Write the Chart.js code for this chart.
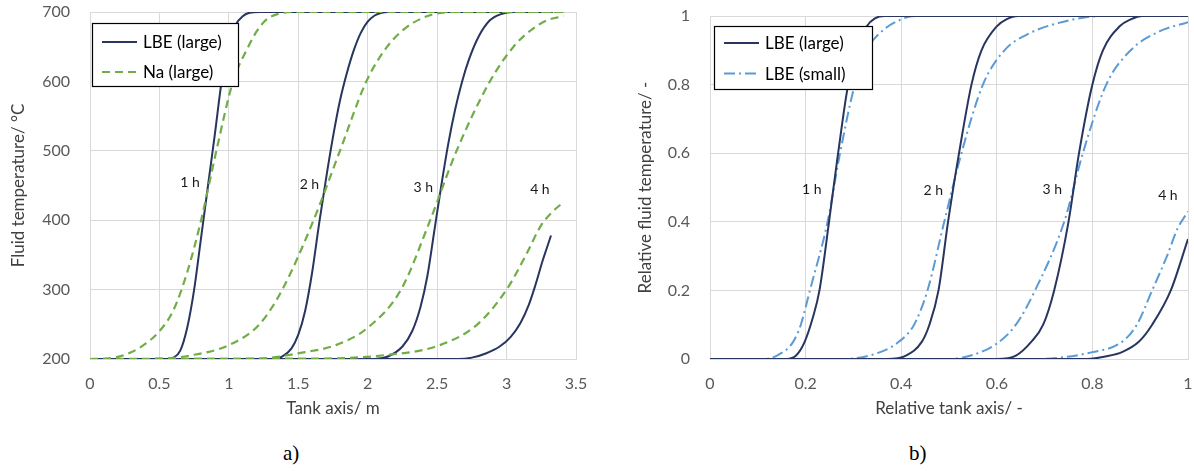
<!DOCTYPE html>
<html lang="en">
<head>
    <meta charset="UTF-8">
    <title>Fluid temperature along the tank axis</title>
    <script src="https://cdn.jsdelivr.net/npm/chart.js"></script>
    <style>
        body {
            margin: 0;
            background: #fff;
            width: 1194px;
            height: 471px;
            position: relative;
            overflow: hidden;
            font-family: Lato, sans-serif;
        }

        canvas {
            position: absolute;
            top: 0;
        }

        #chartA { left: 0; }
        #chartB { left: 600px; }

        .cap {
            position: absolute;
            top: 441px;
            font-family: "Liberation Serif", serif;
            font-size: 21px;
            color: #000;
        }
    </style>
</head>
<body>
    <canvas id="chartA" width="600" height="430"></canvas>
    <canvas id="chartB" width="594" height="430"></canvas>
    <div class="cap" style="left:283px">a)</div>
    <div class="cap" style="left:909px">b)</div>

    <script>
        // ---- a) absolute values, [tank axis m, temperature °C]
        const lbe1h = [[0,200],[0.55,200],[0.6,202],[0.65,212],[0.7,245],[0.75,300],[0.8,375],[0.85,450],[0.9,525],[0.95,603],[1.0,655],[1.05,682],[1.1,694],[1.15,699],[1.22,700],[3.33,700]];
        const lbe2h = [[0,200],[1.3,200],[1.38,203],[1.45,215],[1.5,235],[1.55,270],[1.6,325],[1.65,395],[1.7,460],[1.75,520],[1.8,572],[1.85,612],[1.9,645],[1.95,670],[2.0,686],[2.05,695],[2.1,699],[2.15,700],[3.33,700]];
        const lbe3h = [[0,200],[2.05,200],[2.15,204],[2.25,218],[2.32,240],[2.38,275],[2.43,320],[2.48,385],[2.53,450],[2.58,510],[2.63,560],[2.68,600],[2.73,632],[2.8,665],[2.88,688],[2.96,697],[3.05,700],[3.33,700]];
        const lbe4h = [[0,200],[2.65,200],[2.75,202],[2.85,208],[2.95,218],[3.03,232],[3.1,252],[3.16,278],[3.21,308],[3.26,342],[3.29,360],[3.32,378]];

        const na1h = [[0,200],[0.1,200.5],[0.2,203],[0.3,210],[0.4,222],[0.5,240],[0.6,270],[0.7,325],[0.8,400],[0.91,500],[1.03,600],[1.14,650],[1.2,672],[1.27,689],[1.35,697],[1.45,700],[3.41,700]];
        const na2h = [[0,200],[0.5,200.5],[0.72,205],[1.0,220],[1.22,250],[1.385,300],[1.61,400],[1.8,500],[1.99,600],[2.14,650],[2.26,675],[2.38,690],[2.5,698],[2.62,700],[3.41,700]];
        const na3h = [[0,200],[1.2,200.5],[1.55,210],[1.77,220],[2.0,245],[2.24,300],[2.45,400],[2.64,500],[2.88,600],[3.05,650],[3.17,673],[3.29,688],[3.41,694]];
        const na4h = [[0,200],[1.5,200.5],[2.1,205],[2.52,220],[2.79,250],[3.0,300],[3.14,350],[3.25,393],[3.33,412],[3.41,426]];

        // ---- b) relative values, [relative axis, relative temperature]
        const large1h = [[0,0],[0.16,0],[0.18,0.01],[0.198,0.05],[0.215,0.12],[0.229,0.2],[0.249,0.4],[0.268,0.6],[0.289,0.8],[0.307,0.9],[0.328,0.97],[0.345,0.993],[0.365,1],[1,1]];
        const large2h = [[0,0],[0.37,0],[0.41,0.01],[0.443,0.05],[0.459,0.1],[0.478,0.2],[0.498,0.4],[0.521,0.6],[0.547,0.8],[0.568,0.9],[0.6,0.97],[0.62,0.99],[0.645,1],[1,1]];
        const large3h = [[0,0],[0.6,0],[0.64,0.01],[0.672,0.05],[0.697,0.1],[0.72,0.2],[0.75,0.4],[0.772,0.6],[0.8,0.8],[0.822,0.9],[0.857,0.97],[0.88,0.99],[0.905,1],[1,1]];
        const large4h = [[0,0],[0.79,0],[0.83,0.008],[0.862,0.02],[0.897,0.05],[0.925,0.1],[0.964,0.2],[1.0,0.35]];

        const small1h = [[0,0],[0.11,0],[0.14,0.01],[0.174,0.05],[0.19,0.1],[0.209,0.2],[0.246,0.4],[0.272,0.6],[0.303,0.8],[0.328,0.9],[0.355,0.95],[0.4,0.99],[0.43,1],[1,1]];
        const small2h = [[0,0],[0.28,0],[0.356,0.02],[0.395,0.05],[0.427,0.1],[0.455,0.2],[0.49,0.4],[0.526,0.6],[0.571,0.8],[0.616,0.9],[0.669,0.95],[0.73,0.98],[0.79,0.997],[0.83,1],[1,1]];
        const small3h = [[0,0],[0.5,0],[0.55,0.012],[0.6,0.045],[0.64,0.1],[0.68,0.2],[0.741,0.4],[0.78,0.6],[0.829,0.8],[0.88,0.9],[0.94,0.955],[1.0,0.982]];
        const small4h = [[0,0],[0.68,0],[0.8,0.02],[0.862,0.05],[0.893,0.1],[0.925,0.2],[0.956,0.3],[0.978,0.38],[1.0,0.43]];

        // hour labels and where they sit (data coords)
        const hours = ['1 h', '2 h', '3 h', '4 h'];
        const hourPosA = [[0.72,454],[1.58,451],[2.40,447],[3.24,444]];
        const hourPosB = [[0.213,0.495],[0.467,0.49],[0.716,0.493],[0.958,0.478]];

        // ticks
        const xTicksA = [0, 0.5, 1, 1.5, 2, 2.5, 3, 3.5];
        const yTicksA = [200, 300, 400, 500, 600, 700];
        const xTicksB = [0, 0.2, 0.4, 0.6, 0.8, 1];
        const yTicksB = [0, 0.2, 0.4, 0.6, 0.8, 1];

        const NAVY = '#27355f';
        const GREEN = '#70ad47';
        const BLUE = '#5b9bd5';
        const GRID = '#d9d9d9';
        const NONE = 'rgba(0,0,0,0)';

        const toXY = arr => arr.map(p => ({ x: p[0], y: p[1] }));

        function line(label, pts, color, dash, width) {
            return {
                label: label,
                data: toXY(pts),
                borderColor: color,
                backgroundColor: color,
                borderWidth: width,
                borderDash: dash,
                pointRadius: 0,
                showLine: true,
                fill: false,
                cubicInterpolationMode: 'monotone'
            };
        }

        // legend drawn as a boxed panel inside the plot
        const legendBox = {
            id: 'legendBox',
            afterDatasetsDraw(chart, args, opts) {
                const ctx = chart.ctx;
                ctx.save();
                ctx.fillStyle = '#fff';
                ctx.fillRect(opts.x, opts.y, opts.w, opts.h);
                ctx.strokeStyle = '#000';
                ctx.lineWidth = 1.2;
                ctx.setLineDash([]);
                ctx.strokeRect(opts.x + 0.5, opts.y + 0.5, opts.w, opts.h);
                ctx.font = '17px Lato';
                ctx.textBaseline = 'middle';
                opts.items.forEach((idx, i) => {
                    const ds = chart.data.datasets[idx];
                    const y = opts.y + opts.row0 + i * opts.gap;
                    ctx.strokeStyle = ds.borderColor;
                    ctx.lineWidth = ds.borderWidth;
                    ctx.setLineDash(ds.borderDash || []);
                    ctx.beginPath();
                    ctx.moveTo(opts.x + 10, y);
                    ctx.lineTo(opts.x + 45, y);
                    ctx.stroke();
                    ctx.fillStyle = '#000';
                    ctx.fillText(ds.label, opts.x + 51, y + 1);
                });
                ctx.restore();
            }
        };

        const hourLabels = {
            id: 'hourLabels',
            afterDatasetsDraw(chart, args, opts) {
                const ctx = chart.ctx;
                const sx = chart.scales.x, sy = chart.scales.y;
                ctx.save();
                ctx.font = '14px Lato';
                ctx.fillStyle = '#1a1a1a';
                ctx.textAlign = 'center';
                ctx.textBaseline = 'middle';
                opts.pos.forEach((p, i) => {
                    ctx.fillText(hours[i], sx.getPixelForValue(p[0]), sy.getPixelForValue(p[1]));
                });
                ctx.restore();
            }
        };

        function axes(xTicks, yTicks, xTitle, yTitle, yWidth, yTitlePad) {
            return {
                x: {
                    type: 'linear',
                    min: xTicks[0],
                    max: xTicks[xTicks.length - 1],
                    afterBuildTicks: s => { s.ticks = xTicks.map(v => ({ value: v })); },
                    afterFit: s => { s.height = 71; },
                    // invisible tick marks give the label offset without padding the chart area
                    grid: { color: GRID, drawTicks: true, tickLength: 14, tickColor: NONE },
                    border: { color: GRID },
                    ticks: { color: '#595959', font: { family: 'Lato', size: 16 }, padding: 1, maxRotation: 0, callback: v => String(v) },
                    title: { display: true, text: xTitle, color: '#404040', font: { family: 'Lato', size: 17 }, padding: { top: 0, bottom: 11 } }
                },
                y: {
                    type: 'linear',
                    min: yTicks[0],
                    max: yTicks[yTicks.length - 1],
                    afterBuildTicks: s => { s.ticks = yTicks.map(v => ({ value: v })); },
                    afterFit: s => { s.width = yWidth; },
                    grid: { color: GRID, drawTicks: true, tickLength: 19, tickColor: NONE },
                    border: { color: GRID },
                    ticks: { color: '#595959', font: { family: 'Lato', size: 16 }, padding: 1, callback: v => String(v) },
                    title: { display: true, text: yTitle, color: '#404040', font: { family: 'Lato', size: 17 }, padding: { top: yTitlePad, bottom: 0 } }
                }
            };
        }

        // a) LBE vs Na, large tank
        new Chart(document.getElementById('chartA'), {
            type: 'scatter',
            data: {
                datasets: [
                    line('Na (large)', na1h, GREEN, [8, 5], 2.2),
                    line('Na (large)', na2h, GREEN, [8, 5], 2.2),
                    line('Na (large)', na3h, GREEN, [8, 5], 2.2),
                    line('Na (large)', na4h, GREEN, [8, 5], 2.2),
                    line('LBE (large)', lbe1h, NAVY, [], 2),
                    line('LBE (large)', lbe2h, NAVY, [], 2),
                    line('LBE (large)', lbe3h, NAVY, [], 2),
                    line('LBE (large)', lbe4h, NAVY, [], 2)
                ]
            },
            options: {
                responsive: false,
                animation: false,
                layout: { padding: { left: 0, right: 24, top: 12, bottom: 0 } },
                scales: axes(xTicksA, yTicksA, 'Tank axis/ m', 'Fluid temperature/ °C', 90, 8),
                plugins: {
                    legend: { display: false },
                    tooltip: { enabled: false },
                    hourLabels: { pos: hourPosA },
                    legendBox: { x: 92, y: 23, w: 146, h: 63, row0: 19, gap: 30, items: [4, 0] }
                }
            },
            plugins: [hourLabels, legendBox]
        });

        // b) relative, large vs small tank
        new Chart(document.getElementById('chartB'), {
            type: 'scatter',
            data: {
                datasets: [
                    line('LBE (large)', large1h, NAVY, [], 2),
                    line('LBE (large)', large2h, NAVY, [], 2),
                    line('LBE (large)', large3h, NAVY, [], 2),
                    line('LBE (large)', large4h, NAVY, [], 2),
                    line('LBE (small)', small1h, BLUE, [11, 4, 2, 4], 2),
                    line('LBE (small)', small2h, BLUE, [11, 4, 2, 4], 2),
                    line('LBE (small)', small3h, BLUE, [11, 4, 2, 4], 2),
                    line('LBE (small)', small4h, BLUE, [11, 4, 2, 4], 2)
                ]
            },
            options: {
                responsive: false,
                animation: false,
                layout: { padding: { left: 0, right: 6, top: 16, bottom: 0 } },
                scales: axes(xTicksB, yTicksB, 'Relative tank axis/ -', 'Relative fluid temperature/ -', 110, 35),
                plugins: {
                    legend: { display: false },
                    tooltip: { enabled: false },
                    hourLabels: { pos: hourPosB },
                    legendBox: { x: 114, y: 26, w: 158, h: 63, row0: 17, gap: 30.5, items: [0, 4] }
                }
            },
            plugins: [hourLabels, legendBox]
        });
    </script>
</body>
</html>
